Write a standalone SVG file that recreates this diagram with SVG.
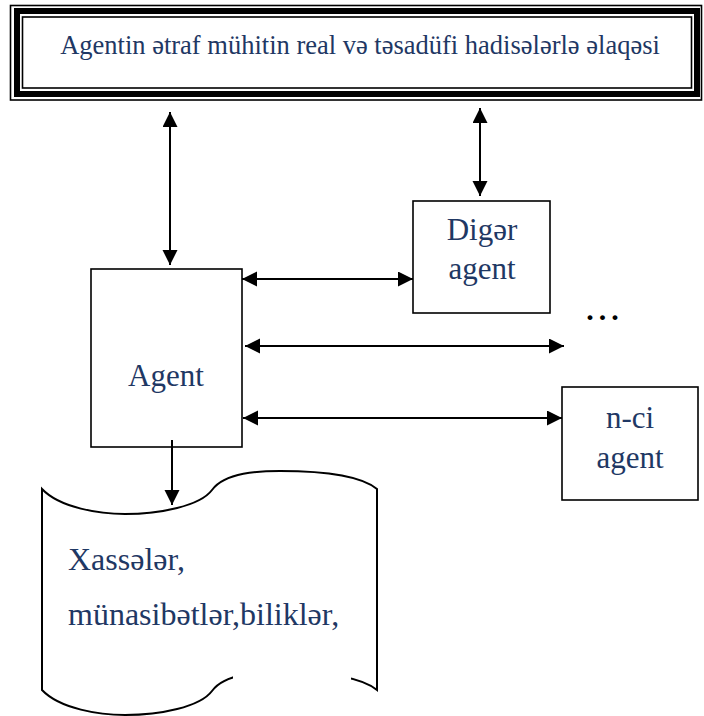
<svg xmlns="http://www.w3.org/2000/svg" width="704" height="716" viewBox="0 0 704 716">
<style>
.box{fill:#fff;stroke:#000;stroke-width:1.6}
.lbl{fill:#1F3864;text-anchor:middle}
.big{font-size:31px}
.conn{stroke:#000;stroke-width:2;fill:none}
</style>
<defs>
<marker id="ah" markerUnits="userSpaceOnUse" markerWidth="16" markerHeight="16" refX="15" refY="7.5" orient="auto-start-reverse" viewBox="0 0 16 16">
<path d="M0,0 L15,7.5 L0,15 z" fill="#000"/>
</marker>
</defs>
<rect width="704" height="716" fill="#fff"/>
<g font-family="'Liberation Serif', Tinos, 'Times New Roman', serif">
<g id="top">
<rect x="10.5" y="5.5" width="691" height="94.5" fill="#fff" stroke="#000" stroke-width="1.6"/>
<rect x="17" y="11" width="680" height="83" fill="none" stroke="#000" stroke-width="6"/>
<rect x="22.5" y="17" width="669" height="71" fill="none" stroke="#000" stroke-width="1.6"/>
<text class="lbl" x="360" y="54" font-size="26.5">Agentin ətraf mühitin real və təsadüfi hadisələrlə əlaqəsi</text>
</g>
<g id="agent">
<rect class="box" x="91" y="269" width="151" height="178"/>
<text class="lbl big" x="166" y="386">Agent</text>
</g>
<g id="diger">
<rect class="box" x="413" y="201" width="137" height="112"/>
<text class="lbl big" x="482" y="240">Digər</text>
<text class="lbl big" x="482" y="279">agent</text>
</g>
<g id="nci">
<rect class="box" x="562" y="387" width="136" height="113"/>
<text class="lbl big" x="630" y="428">n-ci</text>
<text class="lbl big" x="630" y="468">agent</text>
</g>
<g id="dots">
<text x="605" y="320" font-weight="bold" font-size="30" letter-spacing="5" text-anchor="middle" fill="#000">...</text>
</g>
<g id="doc">
<path d="M42,489 C60,508 100,514 125,514 C160,514 200,506 212,490 C225,472 260,471 280,471 C320,471 360,475 377,489 L377,690 C360,676 320,672 280,672 C260,672 225,673 212,691 C200,707 160,715 125,715 C100,715 60,709 42,690 Z" fill="#fff" stroke="#000" stroke-width="2"/>
<rect x="233" y="662" width="118" height="22" fill="#fff"/>
<text class="lbl" font-size="32" x="68" y="570" style="text-anchor:start">Xassələr,</text>
<text class="lbl" font-size="32" x="68" y="625" style="text-anchor:start">münasibətlər,biliklər,</text>
</g>
</g>
<g id="connectors">
<line class="conn" x1="170" y1="112" x2="170" y2="265" marker-start="url(#ah)" marker-end="url(#ah)"/>
<line class="conn" x1="480" y1="108" x2="480" y2="196" marker-start="url(#ah)" marker-end="url(#ah)"/>
<line class="conn" x1="242" y1="279" x2="413" y2="279" marker-start="url(#ah)" marker-end="url(#ah)"/>
<line class="conn" x1="245" y1="346" x2="564" y2="346" marker-start="url(#ah)" marker-end="url(#ah)"/>
<line class="conn" x1="243" y1="418" x2="562" y2="418" marker-start="url(#ah)" marker-end="url(#ah)"/>
<line class="conn" x1="172" y1="440" x2="172" y2="505" marker-end="url(#ah)"/>
</g>
</svg>
